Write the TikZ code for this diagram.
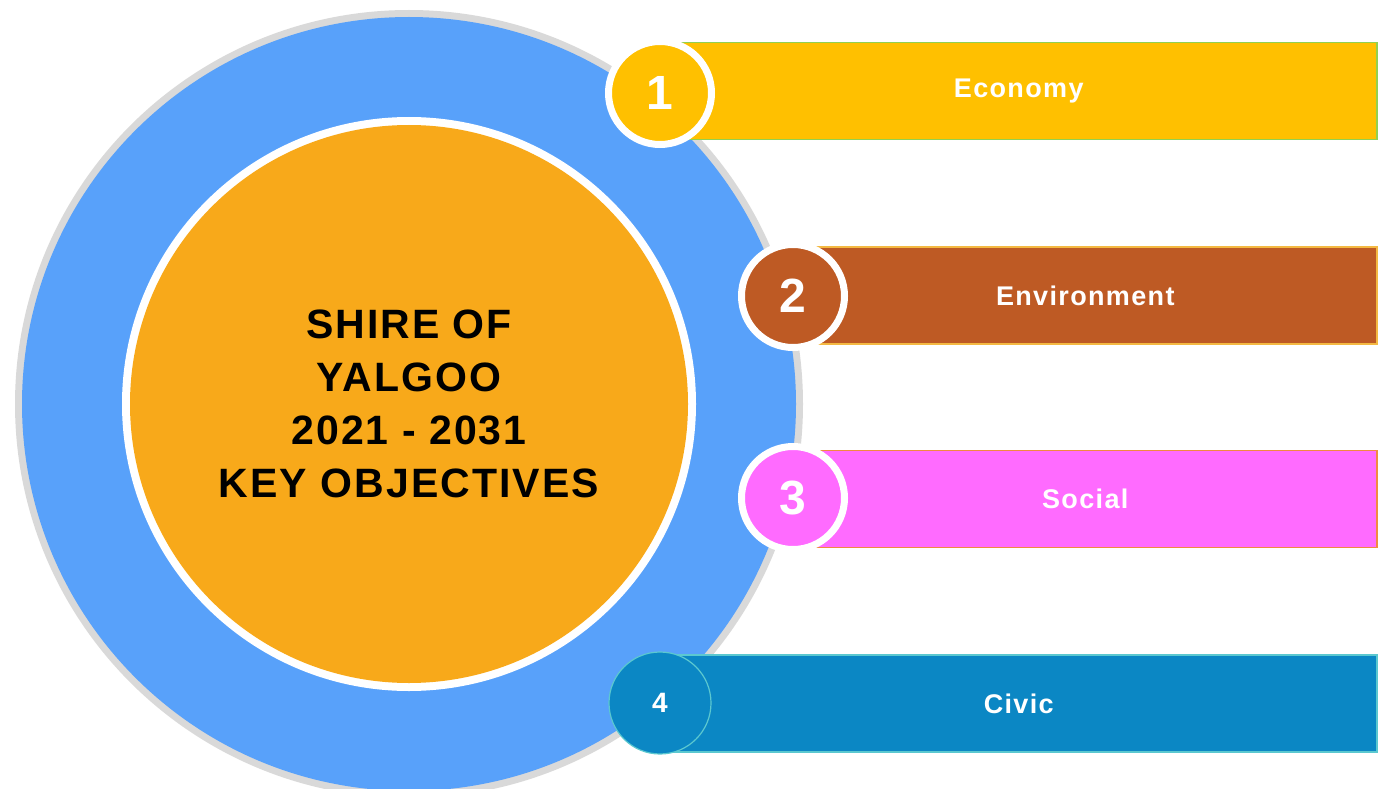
\documentclass[tikz,border=0pt]{standalone}
\usepackage{fontspec}
\setmainfont{Liberation Sans}
\newfontfamily\widefont[LetterSpace=5]{Liberation Sans}
\definecolor{ringgray}{HTML}{D9D9D9}
\definecolor{ringblue}{HTML}{58A1FA}
\definecolor{coreorange}{HTML}{F8A91A}
\definecolor{econyellow}{HTML}{FFC000}
\definecolor{econgreen}{HTML}{92D050}
\definecolor{envbrown}{HTML}{BE5A24}
\definecolor{envedge}{HTML}{F4B942}
\definecolor{socpink}{HTML}{FF6BFF}
\definecolor{socedge}{HTML}{F08A40}
\definecolor{civblue}{HTML}{0B87C4}
\definecolor{civedge}{HTML}{5BC8D0}
\tikzset{
  disc/.style={circle, inner sep=0pt, outer sep=0pt},
  bar/.style={anchor=west, inner sep=0pt, minimum height=97pt, line width=1.5pt,
    text=white, font=\widefont\fontsize{27}{30}\selectfont\bfseries},
  badge/.style={disc, draw=white, line width=7pt, minimum size=103pt,
    text=white, font=\fontsize{48}{50}\selectfont\bfseries}
}
\begin{document}
\begin{tikzpicture}[x=1pt, y=-1pt]
\useasboundingbox (0,0) rectangle (1382,789);
\node[disc, fill=ringgray, minimum size=788pt] (outer) at (409,404) {}; % grey rim
\node[disc, fill=ringblue, minimum size=774pt] (ring) at (outer) {}; % blue ring
\node[disc, fill=white, minimum size=574pt] (gap) at (outer) {}; % white gap
\node[disc, fill=coreorange, minimum size=558pt, align=center,
  font=\widefont\fontsize{41}{53}\selectfont\bfseries] (core) at (outer)
  {SHIRE OF\\YALGOO\\2021 - 2031\\KEY OBJECTIVES}; % centre title
\node[bar, fill=econyellow, draw=econgreen, minimum width=716pt] (economy) at (660,91) {Economy};
\node[bar, fill=envbrown, draw=envedge, minimum width=583pt] (environment) at (793,295.5) {Environment};
\node[bar, fill=socpink, draw=socedge, minimum width=583pt] (social) at (793,499) {Social};
\node[bar, fill=civblue, draw=civedge, minimum width=716pt] (civic) at (660,703.5) {Civic};
\node[badge, fill=econyellow] (one) at (660,93) {1};
\node[badge, fill=envbrown] (two) at (793,296) {2};
\node[badge, fill=socpink] (three) at (793,498) {3};
\node[badge, fill=civblue, draw=civedge, line width=1.2pt, minimum size=102pt,
  font=\fontsize{28}{30}\selectfont\bfseries] (four) at (660,703) {4};
\end{tikzpicture}
\end{document}
